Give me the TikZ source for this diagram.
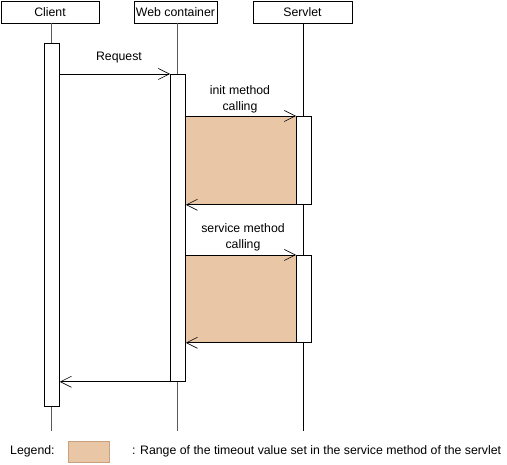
\documentclass[tikz,border=0pt]{standalone}
\usepackage{fontspec}
\setmainfont{Liberation Sans}
\usetikzlibrary{arrows.meta}
\definecolor{rangefill}{RGB}{232,198,166}
\definecolor{rangeedge}{RGB}{200,160,125}
\definecolor{lifegray}{RGB}{90,90,90}
\begin{document}
\begin{tikzpicture}[x=1pt,y=-1pt,
  font=\fontsize{12.3}{16}\selectfont,
  headbox/.style={draw=black,fill=white,line width=0.8pt},
  actbox/.style={draw=black,fill=white,line width=0.8pt},
  life/.style={draw=lifegray,line width=0.8pt},
  msg/.style={draw=black,line width=0.6pt,-{Straight Barb[length=11pt,width=11pt,line width=0.6pt]}},
  rangebox/.style={fill=rangefill,draw=none},
  lbl/.style={inner sep=0pt,align=center}]
\useasboundingbox (0,0) rectangle (507,465);
% header boxes
\node[headbox,minimum width=98pt,minimum height=22pt,inner sep=0pt] (client) at (50,12) {Client};
\node[headbox,minimum width=83pt,minimum height=22pt,inner sep=0pt] (web) at (175.5,12) {Web container};
\node[headbox,minimum width=99pt,minimum height=22pt,inner sep=0pt] (servlet) at (302.5,12) {Servlet};
% lifeline ends
\coordinate (cend) at (51,431);
\coordinate (wend) at (177,431);
\coordinate (send) at (303,431);
\draw[life] (client.south -| cend) -- (cend);
\draw[life] (web.south -| wend) -- (wend);
\draw[draw=black,line width=0.8pt] (servlet.south -| send) -- (send);
% ranges
\node[rangebox,minimum width=111pt,minimum height=88pt,inner sep=0pt,anchor=north west] (r1) at (185,116) {};
\node[rangebox,minimum width=111pt,minimum height=87pt,inner sep=0pt,anchor=north west] (r2) at (185,255) {};
% activations
\node[actbox,minimum width=15pt,minimum height=363pt,inner sep=0pt,anchor=north west] (ca) at (44,43) {};
\node[actbox,minimum width=15pt,minimum height=307pt,inner sep=0pt,anchor=north west] (wa) at (170,74) {};
\node[actbox,minimum width=15pt,minimum height=88pt,inner sep=0pt,anchor=north west] (sa1) at (296,116) {};
\node[actbox,minimum width=15pt,minimum height=87pt,inner sep=0pt,anchor=north west] (sa2) at (296,255) {};
% messages
\draw[msg] (ca.east |- wa.north) -- (wa.north west);
\draw[msg] (wa.east |- sa1.north) -- (sa1.north west);
\draw[msg] (sa1.south west) -- (wa.east |- sa1.south);
\draw[msg] (wa.east |- sa2.north) -- (sa2.north west);
\draw[msg] (sa2.south west) -- (wa.east |- sa2.south);
\draw[msg] (wa.south west) -- (ca.east |- wa.south);
% labels
\node[lbl] (lreq) at (119,58) {Request};
\node[lbl] (linit) at (240,99) {init method\\calling};
\node[lbl] (lserv) at (243,237) {service method\\calling};
% legend
\node[lbl,anchor=west] (leg) at (10,451) {Legend:};
\node[draw=rangeedge,fill=rangefill,minimum width=41pt,minimum height=21pt,inner sep=0pt,anchor=north west,line width=0.6pt] (legbox) at (68,441) {};
\node[lbl,anchor=west] (legtxt) at (132,451) {: Range of the timeout value set in the service method of the servlet};
\end{tikzpicture}
\end{document}
